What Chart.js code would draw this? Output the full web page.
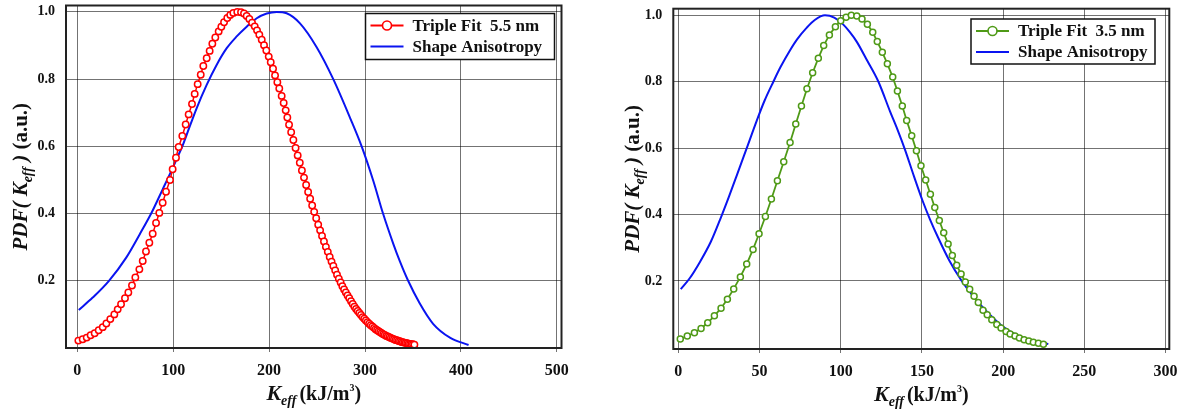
<!DOCTYPE html>
<html>
<head>
<meta charset="utf-8">
<script src="https://cdn.jsdelivr.net/npm/chart.js@4/dist/chart.umd.min.js"></script>
<style>
  html, body { margin: 0; padding: 0; background: #fff; }
  #wrap { position: relative; width: 1189px; height: 412px; overflow: hidden; }
  canvas { position: absolute; top: 0; }
  #c1 { left: 0; }
  #c2 { left: 590px; }
</style>
</head>
<body>
<div id="wrap">
  <canvas id="c1" width="590" height="412"></canvas>
  <canvas id="c2" width="599" height="412"></canvas>
</div>
<script>
// values
const yTicks = [0.2, 0.4, 0.6, 0.8, 1.0];
const xTicksLeft = [0, 100, 200, 300, 400, 500];
const xTicksRight = [0, 50, 100, 150, 200, 250, 300];

// left panel: Triple Fit 5.5 nm (markers)
const redK = [1.1, 5.6, 9.8, 13.9, 18.1, 22.3, 26.5, 30.3, 34.4, 38.6, 42.1, 45.6, 49.7, 53.2, 57.0, 60.5,
  64.7, 68.2, 71.6, 75.1, 78.6, 82.1, 85.5, 89.0, 92.5, 96.7, 99.4, 102.9, 105.7, 109.5, 113.0, 116.1,
  119.6, 122.4, 125.5, 128.7, 131.4, 134.9, 138.0, 140.8, 143.9, 147.4, 150.2, 153.0, 156.4, 159.5,
  162.7, 166.8, 170.7, 173.8, 176.6, 179.4, 182.2, 185.0, 187.4, 189.8, 192.3, 194.7, 197.1, 199.6,
  201.7, 204.1, 206.2, 208.6, 210.6, 213.1, 215.2, 217.3, 219.0, 220.8,
  223.0, 225.3, 227.6, 229.8, 232.0, 234.2, 236.4, 238.6, 240.7, 242.8, 244.9, 247.0, 249.1, 251.2,
  253.2, 255.2, 257.2, 259.2, 261.2, 263.2, 265.1, 267.0, 268.9, 270.8, 272.7, 274.6, 276.4, 278.2,
  280.0, 281.8, 283.6, 285.4, 287.2, 289.0, 290.7, 292.4, 294.1, 295.8, 297.5, 299.2, 300.9, 302.6,
  304.3, 306.0, 307.7, 309.4, 311.0, 312.6, 314.2, 315.8, 317.4, 319.0, 320.6, 322.2, 323.8, 325.4,
  327.0, 328.6, 330.2, 331.8, 333.4, 335.0, 336.5, 338.0, 339.5, 341.0, 342.5, 344.0, 345.5, 347.0,
  348.5, 350.0, 351.5];
const redPdf = [0.022, 0.026, 0.031, 0.038, 0.044, 0.053, 0.062, 0.073, 0.086, 0.100, 0.115, 0.130, 0.148, 0.165, 0.186, 0.210,
  0.234, 0.259, 0.287, 0.313, 0.340, 0.372, 0.402, 0.432, 0.465, 0.500, 0.532, 0.566, 0.598, 0.631, 0.665, 0.695,
  0.726, 0.756, 0.785, 0.813, 0.839, 0.862, 0.884, 0.905, 0.924, 0.942, 0.956, 0.969, 0.982, 0.991,
  0.997, 1.000, 0.999, 0.995, 0.988, 0.979, 0.968, 0.957, 0.945, 0.932, 0.917, 0.901, 0.885, 0.867,
  0.850, 0.831, 0.811, 0.791, 0.772, 0.750, 0.729, 0.707, 0.686, 0.664,
  0.642, 0.619, 0.595, 0.573, 0.551, 0.528, 0.507, 0.485, 0.464, 0.444, 0.424, 0.405, 0.386, 0.367,
  0.350, 0.333, 0.317, 0.301, 0.286, 0.271, 0.257, 0.244, 0.231, 0.218, 0.206, 0.195, 0.184, 0.174,
  0.165, 0.156, 0.148, 0.139, 0.131, 0.123, 0.116, 0.110, 0.104, 0.098, 0.092, 0.087, 0.082, 0.077,
  0.072, 0.068, 0.064, 0.060, 0.056, 0.053, 0.050, 0.047, 0.044, 0.041, 0.039, 0.036, 0.034, 0.032,
  0.030, 0.028, 0.026, 0.024, 0.023, 0.021, 0.020, 0.018, 0.017, 0.016, 0.015, 0.014, 0.013, 0.012,
  0.011, 0.011, 0.010];

// left panel: Shape Anisotropy (line)
const blueLeftK = [1.5, 16, 33, 51, 65, 77, 89, 99.5, 104.3, 109.5, 114.1, 124.5, 134.9, 145.4, 155.8, 166.2,
  176.6, 187.1, 197.5, 207.9, 218.3, 232.2, 249.6, 266.9, 284.4, 296.5, 308.7, 318.8, 329.5, 336.5,
  345, 357, 371, 389, 408];
const blueLeftPdf = [0.113, 0.150, 0.200, 0.269, 0.338, 0.400, 0.472, 0.536, 0.567, 0.600, 0.635, 0.714, 0.783, 0.843, 0.892, 0.927,
  0.956, 0.981, 0.995, 1.000, 0.996, 0.966, 0.895, 0.800, 0.685, 0.600, 0.497, 0.400, 0.310, 0.257,
  0.200, 0.133, 0.072, 0.030, 0.009];

// right panel: Triple Fit 3.5 nm (markers)
const greenK = [1.2, 5.5, 9.9, 14.0, 18.1, 22.2, 26.3, 30.2, 34.1, 38.2, 42.1, 46.0, 49.7, 53.6, 57.3, 61.0,
  64.9, 68.8, 72.3, 75.8, 79.2, 82.7, 86.2, 89.5, 93.0, 96.7, 100.0, 103.3, 106.5, 109.9, 113.1, 116.4,
  119.7, 122.5, 125.6, 128.7, 132.0, 134.9, 137.9, 140.6, 143.7, 146.6, 149.4, 152.3, 155.2, 157.9,
  160.7, 163.4, 166.1, 168.7, 171.4, 174.1, 176.7, 179.4, 182.1, 184.7, 187.6, 190.2, 193.0, 196.1,
  198.7, 201.8, 204.3, 207.3, 210.0, 212.9, 215.8, 218.6, 221.7, 224.8];
const greenPdf = [0.025, 0.034, 0.044, 0.057, 0.074, 0.095, 0.118, 0.145, 0.176, 0.212, 0.251, 0.295, 0.342, 0.394, 0.447, 0.502,
  0.559, 0.617, 0.673, 0.727, 0.779, 0.827, 0.871, 0.909, 0.941, 0.966, 0.984, 0.994, 1.000, 0.998, 0.989, 0.973,
  0.949, 0.921, 0.889, 0.854, 0.814, 0.772, 0.727, 0.683, 0.637, 0.592, 0.547, 0.504, 0.461, 0.421,
  0.382, 0.345, 0.311, 0.277, 0.247, 0.221, 0.197, 0.175, 0.154, 0.135, 0.112, 0.098, 0.083, 0.069,
  0.058, 0.048, 0.040, 0.034, 0.028, 0.023, 0.019, 0.015, 0.012, 0.009];

// right panel: Shape Anisotropy (line)
const blueRightK = [1.5, 7, 13.4, 20, 25.7, 31, 36, 41.9, 48.3, 53, 58.5, 63, 68.8, 73, 79.1, 84, 90.3,
  96, 101.6, 105.5, 109.9, 116, 123.2, 130.4, 135, 139.6, 145.1, 150.5, 155, 160, 167, 174.5, 183,
  190.9, 200, 210, 220, 227.8];
const blueRightPdf = [0.175, 0.208, 0.258, 0.318, 0.385, 0.452, 0.518, 0.597, 0.683, 0.742, 0.800, 0.845, 0.895, 0.927, 0.963, 0.986, 1.000,
  0.993, 0.972, 0.950, 0.920, 0.866, 0.800, 0.710, 0.655, 0.595, 0.515, 0.440, 0.385, 0.330, 0.260, 0.200, 0.145,
  0.103, 0.062, 0.033, 0.017, 0.010];

const SERIF = '"Liberation Serif", "Times New Roman", serif';
const RED = '#ff0000', BLUE = '#0a14f0', GREEN = '#4f9a17';
const GRID = 'rgba(0,0,0,0.55)';

const pts = (xs, ys) => xs.map((x, i) => ({ x, y: ys[i] }));

// draws text runs (for sub/superscripts) centred on x, baseline y
const drawRuns = (ctx, runs, x, y) => {
  let w = 0;
  runs.forEach(r => { ctx.font = r.font; w += ctx.measureText(r.t).width + (r.gap || 0); });
  let cx = x - w / 2;
  runs.forEach(r => {
    ctx.font = r.font;
    ctx.fillText(r.t, cx, y + (r.dy || 0));
    cx += ctx.measureText(r.t).width + (r.gap || 0);
  });
};

const xTitleRuns = [
  { t: 'K', font: `italic bold 22px ${SERIF}` },
  { t: 'eff', font: `italic bold 14px ${SERIF}`, dy: 5, gap: 3 },
  { t: '(kJ/m', font: `bold 20px ${SERIF}` },
  { t: '3', font: `bold 10px ${SERIF}`, dy: -9 },
  { t: ')', font: `bold 20px ${SERIF}` },
];
const yTitleRuns = [
  { t: 'PDF( K', font: `italic bold 21px ${SERIF}` },
  { t: 'eff', font: `italic bold 14px ${SERIF}`, dy: 5 },
  { t: ' )', font: `italic bold 21px ${SERIF}` },
  { t: ' (a.u.)', font: `bold 21px ${SERIF}` },
];

const decor = {
  id: 'decor',
  afterDraw(chart, args, o) {
    const { ctx, chartArea: a } = chart;
    ctx.save();
    // frame
    ctx.strokeStyle = '#222';
    ctx.lineWidth = 2;
    ctx.strokeRect(a.left, a.top, a.right - a.left, a.bottom - a.top);

    // legend box inside the plot
    const L = o.legend;
    ctx.fillStyle = '#fff';
    ctx.fillRect(L.x, L.y, L.w, L.h);
    ctx.strokeStyle = '#111';
    ctx.lineWidth = 1.5;
    ctx.strokeRect(L.x, L.y, L.w, L.h);
    chart.data.datasets.forEach((ds, i) => {
      const yy = L.y + 12 + i * 21;
      ctx.strokeStyle = ds.borderColor;
      ctx.lineWidth = 2;
      ctx.beginPath();
      ctx.moveTo(L.x + 5, yy);
      ctx.lineTo(L.x + 38, yy);
      ctx.stroke();
      if (ds.pointRadius > 0) {
        ctx.beginPath();
        ctx.arc(L.x + 21.5, yy, 4.5, 0, Math.PI * 2);
        ctx.fillStyle = '#fff';
        ctx.fill();
        ctx.lineWidth = 1.6;
        ctx.stroke();
      }
      ctx.fillStyle = '#111';
      ctx.font = `bold 17px ${SERIF}`;
      ctx.textBaseline = 'middle';
      ctx.fillText(ds.label, L.x + 47, yy + 1);
    });

    // axis titles
    ctx.fillStyle = '#111';
    ctx.textBaseline = 'alphabetic';
    drawRuns(ctx, xTitleRuns, (a.left + a.right) / 2, o.xTitleY);
    ctx.translate(o.yTitleX, (a.top + a.bottom) / 2);
    ctx.rotate(-Math.PI / 2);
    drawRuns(ctx, yTitleRuns, 0, 0);
    ctx.restore();
  }
};

const makeChart = (id, cfg) => new Chart(document.getElementById(id), {
  type: 'line',
  data: { datasets: cfg.datasets },
  options: {
    responsive: false,
    animation: false,
    devicePixelRatio: 1,
    layout: { padding: cfg.padding },
    plugins: { legend: { display: false }, tooltip: { enabled: false }, decor: cfg.decor },
    scales: {
      x: {
        type: 'linear',
        min: cfg.xMin, max: cfg.xMax,
        afterBuildTicks: s => { s.ticks = cfg.xTicks.map(v => ({ value: v })); },
        afterFit: s => { s.height = cfg.xHeight; s.paddingLeft = 0; s.paddingRight = 0; },
        grid: { color: GRID, lineWidth: 1, tickLength: 4, tickColor: GRID },
        border: { display: false },
        ticks: { color: '#111', font: { family: SERIF, size: 16, weight: 'bold' }, padding: 9, maxRotation: 0 }
      },
      y: {
        type: 'linear',
        min: cfg.yMin, max: cfg.yMax,
        afterBuildTicks: s => { s.ticks = yTicks.map(v => ({ value: v })); },
        afterFit: s => { s.width = cfg.yWidth; s.paddingTop = 0; s.paddingBottom = 0; },
        grid: { color: GRID, lineWidth: 1, drawTicks: false },
        border: { display: false },
        ticks: { color: '#111', font: { family: SERIF, size: 14, weight: 'bold' }, padding: cfg.yPad, callback: v => v.toFixed(1) }
      }
    }
  },
  plugins: [decor]
});

makeChart('c1', {
  datasets: [
    { label: 'Triple Fit  5.5 nm', data: pts(redK, redPdf), borderColor: RED, borderWidth: 1.5,
      pointRadius: 3.2, pointBorderWidth: 1.5, pointBackgroundColor: '#fff', pointBorderColor: RED, tension: 0 },
    { label: 'Shape Anisotropy', data: pts(blueLeftK, blueLeftPdf), borderColor: BLUE, borderWidth: 2,
      pointRadius: 0, cubicInterpolationMode: 'monotone' }
  ],
  padding: { left: 0, right: 28.5, top: 4, bottom: 0 },
  xMin: -11.8, xMax: 504.9, xTicks: xTicksLeft, xHeight: 64,
  yMin: 0, yMax: 1.019, yWidth: 66, yPad: 11,
  decor: { legend: { x: 365.5, y: 13.5, w: 189, h: 46 }, xTitleY: 400, yTitleX: 27 }
});

makeChart('c2', {
  datasets: [
    { label: 'Triple Fit  3.5 nm', data: pts(greenK, greenPdf), borderColor: GREEN, borderWidth: 1.8,
      pointRadius: 3, pointBorderWidth: 1.5, pointBackgroundColor: '#fff', pointBorderColor: GREEN, tension: 0 },
    { label: 'Shape Anisotropy', data: pts(blueRightK, blueRightPdf), borderColor: BLUE, borderWidth: 2,
      pointRadius: 0, cubicInterpolationMode: 'monotone' }
  ],
  padding: { left: 0, right: 19.7, top: 8.7, bottom: 0 },
  xMin: -3.1, xMax: 302.3, xTicks: xTicksRight, xHeight: 63,
  yMin: -0.005, yMax: 1.02, yWidth: 83.3, yPad: 11,
  decor: { legend: { x: 381, y: 19, w: 184, h: 45 }, xTitleY: 401, yTitleX: 49 }
});
</script>
</body>
</html>
